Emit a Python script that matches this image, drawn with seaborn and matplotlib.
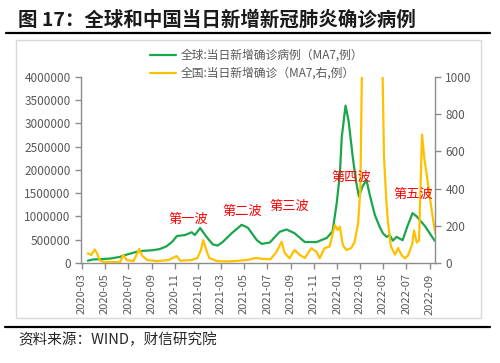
import pandas as pd
import matplotlib.pyplot as plt
import matplotlib.dates as mdates
import matplotlib.patches as patches
import matplotlib.lines as mlines
import seaborn as sns

# global daily new cases (MA7)
global_dates = ["2020-03-17", "2020-03-30", "2020-04-25", "2020-05-14", "2020-06-09", "2020-06-27",
                "2020-07-23", "2020-08-08", "2020-09-04", "2020-09-22", "2020-10-10", "2020-10-25",
                "2020-11-06", "2020-11-27", "2020-12-15", "2020-12-23", "2021-01-06", "2021-01-23",
                "2021-02-08", "2021-02-21", "2021-03-06", "2021-03-30", "2021-04-25", "2021-05-11",
                "2021-06-04", "2021-06-17", "2021-07-08", "2021-08-03", "2021-08-21", "2021-09-11",
                "2021-10-08", "2021-11-08", "2021-12-05", "2021-12-20", "2021-12-31", "2022-01-08",
                "2022-01-13", "2022-01-23", "2022-01-31", "2022-02-11", "2022-02-19", "2022-02-27",
                "2022-03-09", "2022-03-19", "2022-03-28", "2022-04-10", "2022-04-23", "2022-05-01",
                "2022-05-11", "2022-05-19", "2022-05-27", "2022-06-06", "2022-06-22", "2022-07-05",
                "2022-07-18", "2022-07-29", "2022-08-06", "2022-08-19", "2022-09-01", "2022-09-14"]
global_cases = [50000, 75000, 85000, 95000, 130000, 180000,
                240000, 260000, 275000, 300000, 360000, 460000,
                580000, 600000, 660000, 600000, 750000, 560000,
                400000, 375000, 450000, 640000, 820000, 760000,
                490000, 410000, 440000, 670000, 720000, 640000,
                450000, 450000, 540000, 680000, 1300000, 1900000,
                2700000, 3380000, 3050000, 2270000, 1780000, 1430000,
                1650000, 1780000, 1450000, 1030000, 770000, 640000,
                560000, 600000, 480000, 560000, 490000, 800000,
                1070000, 1000000, 920000, 800000, 640000, 480000]

# China daily new confirmed (MA7, right axis)
china_dates = ["2020-03-17", "2020-03-26", "2020-04-04", "2020-04-10", "2020-04-17", "2020-04-26",
               "2020-05-20", "2020-06-10", "2020-06-18", "2020-06-27", "2020-07-15", "2020-07-30",
               "2020-08-07", "2020-08-20", "2020-09-15", "2020-10-15", "2020-11-05", "2020-11-15",
               "2020-12-15", "2020-12-30", "2021-01-08", "2021-01-14", "2021-01-24", "2021-01-30",
               "2021-02-20", "2021-03-20", "2021-04-15", "2021-05-10", "2021-06-01", "2021-06-20",
               "2021-07-10", "2021-07-26", "2021-08-08", "2021-08-16", "2021-08-29", "2021-09-11",
               "2021-09-25", "2021-10-08", "2021-10-25", "2021-11-08", "2021-11-16", "2021-11-29",
               "2021-12-12", "2021-12-26", "2022-01-02", "2022-01-08", "2022-01-16", "2022-01-25",
               "2022-02-07", "2022-02-16", "2022-02-25", "2022-03-03", "2022-03-08", "2022-03-15",
               "2022-03-25", "2022-04-05", "2022-04-15", "2022-04-22", "2022-04-28", "2022-05-04",
               "2022-05-10", "2022-05-14", "2022-05-22", "2022-06-02", "2022-06-10", "2022-06-20",
               "2022-06-28", "2022-07-06", "2022-07-17", "2022-07-22", "2022-07-29", "2022-08-04",
               "2022-08-12", "2022-08-18", "2022-08-26", "2022-09-03", "2022-09-11", "2022-09-16"]
china_cases = [52, 43, 73, 52, 16, 7,
               5, 5, 43, 16, 10, 75,
               38, 16, 10, 16, 37, 12,
               16, 27, 70, 123, 59, 27,
               10, 8, 12, 16, 27, 22,
               20, 61, 114, 54, 25, 70,
               43, 27, 79, 60, 25, 80,
               88, 204, 177, 195, 96, 70,
               80, 114, 213, 400, 1200, 2400,
               1600, 1300, 2200, 2600, 1300, 570,
               340, 230, 90, 45, 80, 40,
               25, 40, 100, 175, 110, 120,
               690, 560, 450, 330, 220, 160]

wave_labels = ["第一波", "第二波", "第三波", "第四波", "第五波"]
wave_dates = ["2020-12-07", "2021-04-27", "2021-08-27", "2022-02-08", "2022-07-21"]
wave_values = [940000, 1110000, 1220000, 1840000, 1480000]

legend_labels = ["全球:当日新增确诊病例（MA7,例）", "全国:当日新增确诊（MA7,右,例）"]

df_g = pd.DataFrame({"date": pd.to_datetime(global_dates), "cases": global_cases})
df_c = pd.DataFrame({"date": pd.to_datetime(china_dates), "cases": china_cases})

sns.set_theme(style="white")
plt.rcParams["font.family"] = ["Noto Sans CJK SC", "DejaVu Sans"]

green = "#1aa64a"
gold = "#ffc000"
grey = "#595959"
spine = "#8c8c8c"

fig = plt.figure(figsize=(5, 3.63), dpi=100)
ax = fig.add_axes([0.162, 0.2755, 0.708, 0.513])
ax2 = ax.twinx()

sns.lineplot(data=df_g, x="date", y="cases", ax=ax, color=green, linewidth=1.6)
sns.lineplot(data=df_c, x="date", y="cases", ax=ax2, color=gold, linewidth=1.6)

ax.set_xlim(pd.Timestamp("2020-02-28"), pd.Timestamp("2022-09-15"))
ax.set_ylim(0, 4000000)
ax2.set_ylim(0, 1000)
ax.set_yticks(range(0, 4000001, 500000))
ax2.set_yticks(range(0, 1001, 200))
ax.yaxis.set_major_formatter(plt.FuncFormatter(lambda v, p: f"{int(v)}"))
ax.xaxis.set_major_locator(mdates.MonthLocator(bymonth=[1, 3, 5, 7, 9, 11]))
ax.xaxis.set_major_formatter(mdates.DateFormatter("%Y-%m"))
for a in (ax, ax2):
    a.set_xlabel("")
    a.set_ylabel("")
    for s in a.spines.values():
        s.set_color(spine)
        s.set_linewidth(1)
    a.spines["top"].set_visible(False)
    a.tick_params(colors=grey, labelsize=8.5, length=4, width=1, direction="out")
    a.tick_params(axis="both", color=spine)
ax.spines["right"].set_visible(False)
ax2.spines["left"].set_visible(False)
ax2.spines["bottom"].set_visible(False)
ax.tick_params(axis="x", labelrotation=90, labelsize=8)
ax.tick_params(left=True, bottom=True)
ax2.tick_params(right=True)

for lab, d, v in zip(wave_labels, wave_dates, wave_values):
    ax2.text(pd.Timestamp(d), v / 4000, lab, color="#ff0000", fontsize=9.5, ha="center", va="center")

handles = [mlines.Line2D([], [], color=green, linewidth=1.6),
           mlines.Line2D([], [], color=gold, linewidth=1.6)]
fig.legend(handles, legend_labels, loc="upper left", bbox_to_anchor=(0.30, 0.865),
           frameon=False, fontsize=8.5, handlelength=2.2, handletextpad=0.4,
           labelspacing=0.4, labelcolor=grey, borderaxespad=0, borderpad=0)

fig.patches.append(patches.Rectangle((0.032, 0.124), 0.93, 0.766, transform=fig.transFigure,
                                     fill=False, edgecolor="#d9d9d9", linewidth=1))
fig.add_artist(mlines.Line2D([0.012, 0.98], [0.909, 0.909], color="black", linewidth=1.6,
                             transform=fig.transFigure))
fig.add_artist(mlines.Line2D([0.01, 0.98], [0.099, 0.099], color="black", linewidth=1.6,
                             transform=fig.transFigure))
fig.text(0.036, 0.945, "图 17：全球和中国当日新增新冠肺炎确诊病例", fontsize=14,
         fontweight="bold", color="#1a1a1a", va="center", ha="left")
fig.text(0.036, 0.064, "资料来源：WIND，财信研究院", fontsize=10.5, color="#262626",
         va="center", ha="left", style="italic")

fig.savefig("out.png", dpi=100)
